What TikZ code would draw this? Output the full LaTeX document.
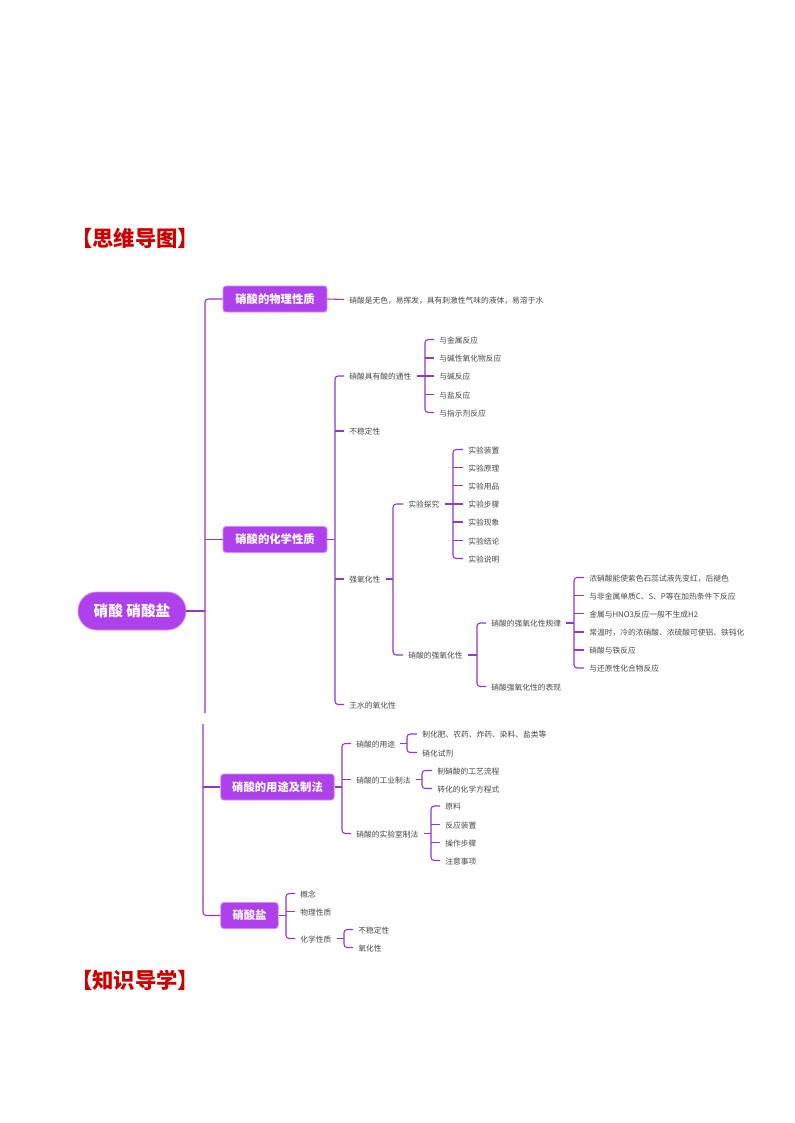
\documentclass[tikz,border=0pt]{standalone}
\usepackage{fontspec}
\setmainfont{Noto Sans CJK SC}
\definecolor{boxfill}{HTML}{AE41EC}
\definecolor{boxedge}{HTML}{D38CFA}
\definecolor{linkcol}{HTML}{9436C6}
\definecolor{leafcol}{HTML}{4A4A4A}
\definecolor{headred}{HTML}{CC0000}
\tikzset{
  leaf/.style={anchor=west,xshift=-3.75pt,inner xsep=3.75pt,inner ysep=0pt,text height=5.4pt,text depth=0pt,
    text=leafcol,font=\fontsize{5.82}{7}\selectfont},
  topicbox/.style={draw=boxedge,fill=boxfill,line width=0.6pt,rounded corners=2.2pt,text=white,inner sep=0pt,
    font=\fontsize{8.5}{10}\bfseries\selectfont},
  rootbox/.style={draw=boxedge,fill=boxfill,line width=0.6pt,rounded corners=14pt,text=white,inner sep=0pt,
    minimum width=81pt,minimum height=28.5pt,font=\fontsize{11}{13}\bfseries\selectfont},
  headline/.style={anchor=west,inner sep=0pt,text=headred,font=\fontsize{16}{18}\bfseries\selectfont},
  link/.style={draw=linkcol,line width=0.8pt,rounded corners=2.4pt},
}
\newcommand{\lf}[4]{\node[leaf] (#1) at (#2,#3) {#4};}
\newcommand{\fan}[4]{%
  \coordinate (#1-j) at (#2,0 |- #1.east);
  \draw[link] (#1.east) -- (#1-j);
  \draw[link] (#3.west) -| (#1-j) |- (#4.west);}
\newcommand{\mids}[2]{\foreach \m in {#2} {\draw[link] (\m.west) -- (\m.west -| #1-j);}}
\begin{document}
\begin{tikzpicture}[x=0.75pt,y=-0.75pt]
\useasboundingbox[fill=white] (0,0) rectangle (794,1123);
\node[headline] (h1) at (71,238) {【思维导图】};
\node[headline] (h2) at (71,980) {【知识导学】};
\node[rootbox] (root) at (132,611) {硝酸 硝酸盐};
\node[topicbox,minimum width=78pt,minimum height=19.5pt] (phys) at (275,299) {硝酸的物理性质};
\node[topicbox,minimum width=78pt,minimum height=19.5pt] (chem) at (275,539.5) {硝酸的化学性质};
\node[topicbox,minimum width=85pt,minimum height=19.5pt] (use) at (277.5,787) {硝酸的用途及制法};
\node[topicbox,minimum width=43pt,minimum height=19.5pt] (salt) at (249.5,915.5) {硝酸盐};
% main spines
\coordinate (e1) at (205,713);
\coordinate (e2) at (203,724);
\draw[link] (phys.west) -| (e1);
\draw[link] (root.east) -- (root.east -| e1);
\draw[link] (chem.west) -- (chem.west -| e1);
\draw[link] (e2) |- (salt.west);
\draw[link] (use.west) -- (use.west -| e2);
% physical
\lf{p1}{349}{299.5}{硝酸是无色，易挥发，具有刺激性气味的液体，易溶于水}
\draw[link] (phys.east) -- (p1.west);
% chemical
\lf{c1}{349}{376}{硝酸具有酸的通性}
\lf{c2}{349}{431}{不稳定性}
\lf{c3}{349}{579}{强氧化性}
\lf{c4}{349}{704.5}{王水的氧化性}
\fan{chem}{335}{c1}{c4}
\mids{chem}{c2,c3}
\lf{a1}{439}{339.5}{与金属反应}
\lf{a2}{439}{358}{与碱性氧化物反应}
\lf{a3}{439}{376}{与碱反应}
\lf{a4}{439}{394.5}{与盐反应}
\lf{a5}{439}{412.5}{与指示剂反应}
\fan{c1}{425}{a1}{a5}
\mids{c1}{a2,a3,a4}
\lf{o1}{408}{504}{实验探究}
\lf{o2}{408}{655}{硝酸的强氧化性}
\fan{c3}{393}{o1}{o2}
\lf{x1}{468}{449.5}{实验装置}
\lf{x2}{468}{467.5}{实验原理}
\lf{x3}{468}{485.5}{实验用品}
\lf{x4}{468}{504}{实验步骤}
\lf{x5}{468}{522}{实验现象}
\lf{x6}{468}{540.5}{实验结论}
\lf{x7}{468}{558.5}{实验说明}
\fan{o1}{453}{x1}{x7}
\mids{o1}{x2,x3,x4,x5,x6}
\lf{s1}{491}{623}{硝酸的强氧化性规律}
\lf{s2}{491}{686.5}{硝酸强氧化性的表现}
\fan{o2}{477}{s1}{s2}
\lf{r1}{589}{577.5}{浓硝酸能使紫色石蕊试液先变红，后褪色}
\lf{r2}{589}{595.5}{与非金属单质C、S、P等在加热条件下反应}
\lf{r3}{589}{613.5}{金属与HNO3反应一般不生成H2}
\lf{r4}{589}{632}{常温时，冷的浓硝酸、浓硫酸可使铝、铁钝化}
\lf{r5}{589}{650}{硝酸与铁反应}
\lf{r6}{589}{668}{与还原性化合物反应}
\fan{s1}{574}{r1}{r6}
\mids{s1}{r2,r3,r4,r5}
% uses
\lf{u1}{356}{743.5}{硝酸的用途}
\lf{u2}{356}{779.5}{硝酸的工业制法}
\lf{u3}{356}{833.5}{硝酸的实验室制法}
\fan{use}{342}{u1}{u3}
\mids{use}{u2}
\lf{ua}{422}{734}{制化肥、农药、炸药、染料、盐类等}
\lf{ub}{422}{752.5}{硝化试剂}
\fan{u1}{407}{ua}{ub}
\lf{uc}{437}{770.5}{制硝酸的工艺流程}
\lf{ud}{437}{788.5}{转化的化学方程式}
\fan{u2}{422}{uc}{ud}
\lf{ue}{445}{806}{原料}
\lf{uf}{445}{824.5}{反应装置}
\lf{ug}{445}{842.5}{操作步骤}
\lf{uh}{445}{860.5}{注意事项}
\fan{u3}{431}{ue}{uh}
\mids{u3}{uf,ug}
% salts
\lf{n1}{300}{893.5}{概念}
\lf{n2}{300}{911.5}{物理性质}
\lf{n3}{300}{938.5}{化学性质}
\fan{salt}{286}{n1}{n3}
\mids{salt}{n2}
\lf{na}{358}{929.5}{不稳定性}
\lf{nb}{358}{947.5}{氧化性}
\fan{n3}{344}{na}{nb}
\end{tikzpicture}
\end{document}
